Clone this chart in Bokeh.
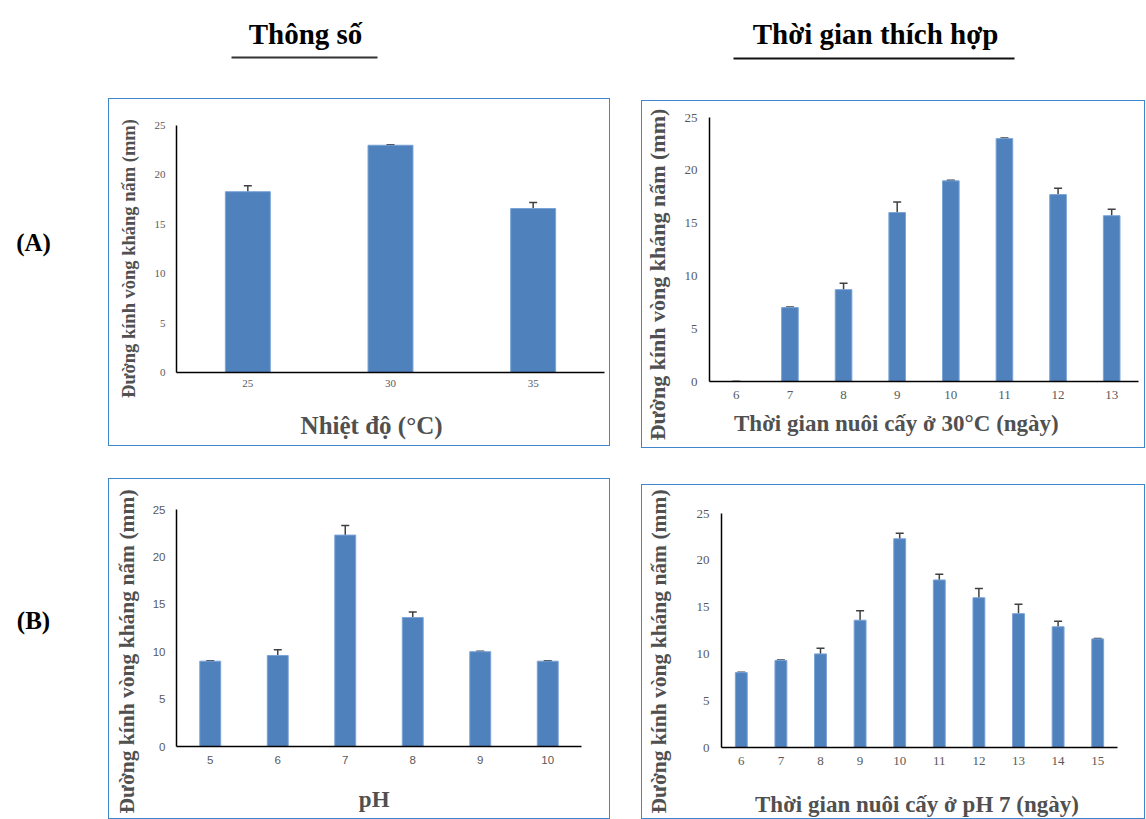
from bokeh.plotting import figure
from bokeh.models import ColumnDataSource, FactorRange, Range1d, Whisker, Spacer, FixedTicker
from bokeh.layouts import row, column
from bokeh.embed import file_html
from bokeh.resources import INLINE
from bokeh.core.properties import value

# ---------------- data ----------------
y_ticks = [0, 5, 10, 15, 20, 25]

temp_cats = ["25", "30", "35"]
temp_vals = [18.3, 23.0, 16.6]
temp_err = [0.6, 0.05, 0.6]

day30_cats = ["6", "7", "8", "9", "10", "11", "12", "13"]
day30_vals = [0.0, 7.0, 8.7, 16.0, 19.0, 23.0, 17.7, 15.7]
day30_err = [0.0, 0.05, 0.6, 1.0, 0.05, 0.05, 0.6, 0.6]

ph_cats = ["5", "6", "7", "8", "9", "10"]
ph_vals = [9.0, 9.6, 22.3, 13.6, 10.0, 9.0]
ph_err = [0.05, 0.6, 1.0, 0.6, 0.05, 0.05]

dayph_cats = ["6", "7", "8", "9", "10", "11", "12", "13", "14", "15"]
dayph_vals = [8.0, 9.3, 10.0, 13.6, 22.3, 17.9, 16.0, 14.3, 12.9, 11.6]
dayph_err = [0.05, 0.05, 0.6, 1.0, 0.6, 0.6, 1.0, 1.0, 0.6, 0.05]

header_texts = ["Thông số", "Thời gian thích hợp"]
row_labels = ["(A)", "(B)"]
y_label = "Đường kính vòng kháng nấm (mm)"
x_labels = ["Nhiệt độ (°C)", "Thời gian nuôi cấy ở 30°C (ngày)", "pH",
            "Thời gian nuôi cấy ở pH 7 (ngày)"]

SERIF = "Liberation Serif"
SANS = "Liberation Sans"
BAR = "#4f81bd"
GRAY = "#595959"
LABEL = "#505050"
BOX = "#3f86cc"


def deco(x0, y0, x1, y1):
    """A blank figure whose data space equals page pixels (y negated)."""
    f = figure(width=x1 - x0, height=y1 - y0, x_range=Range1d(x0, x1),
               y_range=Range1d(-y1, -y0), output_backend="svg", toolbar_location=None,
               min_border=0, x_axis_type=None, y_axis_type=None, title=None)
    f.outline_line_color = None
    f.background_fill_color = None
    f.border_fill_color = None
    return f


def make_box(cats, vals, errs, xlabel, box, frame, split_x, split_y, ylab_c, xlab_c,
             tick_font, tick_size, ylab_size, xlab_size, bar_width, ytick_so, xtick_so):
    bx0, by0, bx1, by1 = box
    fl, ft, fr, fb = frame
    src = ColumnDataSource(dict(
        cat=cats, val=vals,
        upper=[v + e for v, e in zip(vals, errs)],
        lower=[v - e for v, e in zip(vals, errs)],
    ))
    p = figure(width=bx1 - split_x, height=split_y - by0, x_range=FactorRange(*cats),
               y_range=Range1d(0, 25), output_backend="svg", toolbar_location=None,
               min_border_left=fl - split_x, min_border_right=bx1 - fr,
               min_border_top=ft - by0, min_border_bottom=split_y - fb, title=None)
    p.vbar(x="cat", top="val", width=bar_width, source=src,
           fill_color=BAR, line_color="#7aa3d6", line_width=1)
    w = Whisker(base="cat", upper="upper", lower="lower", source=src,
                line_color="#404040", line_width=1.5)
    for h in (w.upper_head, w.lower_head):
        h.size = 8
        h.line_color = "#404040"
        h.line_width = 1.5
    p.add_layout(w)
    p.yaxis.ticker = FixedTicker(ticks=y_ticks)
    for ax in (p.xaxis, p.yaxis):
        ax.major_tick_line_color = None
        ax.major_tick_out = 0
        ax.major_tick_in = 0
        ax.minor_tick_line_color = None
        ax.minor_tick_out = 0
        ax.axis_line_color = "black"
        ax.axis_line_width = 1.5
        ax.major_label_text_font = tick_font
        ax.major_label_text_font_size = tick_size
        ax.major_label_text_color = GRAY
    p.yaxis.major_label_standoff = ytick_so
    p.xaxis.major_label_standoff = xtick_so
    p.xgrid.grid_line_color = None
    p.ygrid.grid_line_color = None
    p.outline_line_color = None
    p.background_fill_color = None
    p.border_fill_color = None

    yl = deco(bx0, by0, split_x, by1)
    yl.text(x=[ylab_c[0]], y=[-ylab_c[1]], text=[y_label], angle=90, angle_units="deg",
            text_align="center", text_baseline="middle", text_font=value(SERIF),
            text_font_size=ylab_size, text_font_style="bold", text_color=LABEL)
    xl = deco(split_x, split_y, bx1, by1)
    xl.text(x=[xlab_c[0]], y=[-xlab_c[1]], text=[xlabel], text_align="center",
            text_baseline="middle", text_font=value(SERIF), text_font_size=xlab_size,
            text_font_style="bold", text_color=LABEL)
    return row(yl, column(p, xl), styles={"outline": "1.5px solid " + BOX,
                                          "outline-offset": "0px",
                                          "background": "white"})


boxA1 = make_box(temp_cats, temp_vals, temp_err, x_labels[0],
                 (109, 99, 609, 445), (176, 125, 604, 372), 146, 400, (128, 258), (357, 425),
                 SERIF, "11px", "18.5px", "25px", 0.315, 11, 7)
boxA2 = make_box(day30_cats, day30_vals, day30_err, x_labels[1],
                 (642, 101, 1144, 447), (709, 117, 1138, 381), 678, 408, (657, 274), (881, 423),
                 SERIF, "13px", "22px", "23px", 0.31, 12, 9)
boxB1 = make_box(ph_cats, ph_vals, ph_err, x_labels[2],
                 (109, 479, 609, 818), (176, 509, 581, 746), 146, 775, (126, 651), (372, 799),
                 SANS, "11.5px", "21.5px", "23px", 0.31, 11, 9)
boxB2 = make_box(dayph_cats, dayph_vals, dayph_err, x_labels[3],
                 (642, 485, 1144, 818), (721, 513, 1117, 747), 678, 778, (658, 651), (908, 804),
                 SERIF, "13px", "21.5px", "23px", 0.30, 12, 9)

# ---------------- header & row labels ----------------
header = deco(0, 0, 1146, 99)
header.text(x=[305, 875], y=[-33, -33], text=header_texts, text_align="center",
            text_baseline="middle", text_font=value(SERIF), text_font_style="bold",
            text_font_size="29px", text_color="black")
header.segment(x0=[231, 733], y0=[-57, -58], x1=[377, 1014], y1=[-57, -58],
               line_color=["#333333", "#111111"], line_width=2)

side = deco(0, 99, 109, 818)
side.text(x=[33, 33], y=[-242, -620], text=row_labels, text_align="center",
          text_baseline="middle", text_font=value(SERIF), text_font_style="bold",
          text_font_size="25px", text_color="black")

layout = column(
    header,
    row(side,
        column(boxA1, Spacer(width=500, height=34), boxB1),
        Spacer(width=33, height=10),
        column(Spacer(width=502, height=2), boxA2, Spacer(width=502, height=38), boxB2)),
)

open("out.html", "w").write(file_html(layout, INLINE))
